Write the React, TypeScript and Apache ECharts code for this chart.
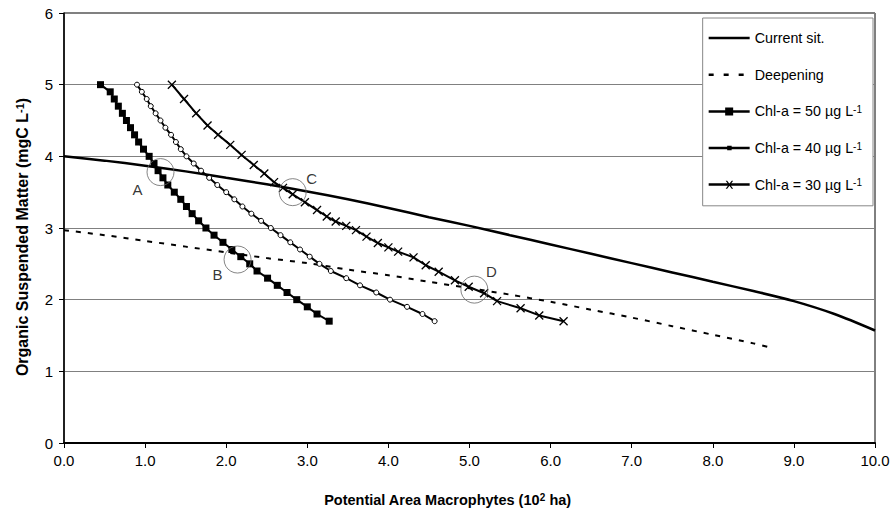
import React, { useEffect, useRef } from 'react';
import * as echarts from 'echarts';

// ---- data ----
const omLevels = [5.0, 4.9, 4.8, 4.7, 4.6, 4.5, 4.4, 4.3, 4.2, 4.1, 4.0, 3.9, 3.8, 3.7, 3.6, 3.5, 3.4, 3.3, 3.2, 3.1, 3.0, 2.9, 2.8, 2.7, 2.6, 2.5, 2.4, 2.3, 2.2, 2.1, 2.0, 1.9, 1.8, 1.7];
const chl50X = [0.45, 0.57, 0.62, 0.67, 0.72, 0.77, 0.82, 0.87, 0.92, 0.98, 1.05, 1.11, 1.16, 1.22, 1.28, 1.36, 1.44, 1.51, 1.58, 1.66, 1.75, 1.85, 1.96, 2.07, 2.18, 2.29, 2.38, 2.51, 2.63, 2.75, 2.87, 3.0, 3.12, 3.27];
const chl40X = [0.9, 0.96, 1.02, 1.07, 1.13, 1.19, 1.25, 1.32, 1.38, 1.44, 1.51, 1.6, 1.69, 1.79, 1.89, 2.0, 2.1, 2.2, 2.31, 2.43, 2.55, 2.67, 2.79, 2.91, 3.03, 3.15, 3.29, 3.48, 3.65, 3.85, 4.02, 4.23, 4.42, 4.57];
const chl30X = [1.33, 1.48, 1.63, 1.77, 1.9, 2.05, 2.19, 2.34, 2.47, 2.59, 2.7, 2.82, 2.97, 3.12, 3.24, 3.35, 3.48, 3.6, 3.73, 3.87, 4.0, 4.12, 4.31, 4.46, 4.62, 4.82, 4.99, 5.18, 5.34, 5.63, 5.86, 6.16];
const chl30Y = [5.0, 4.8, 4.6, 4.43, 4.3, 4.16, 4.02, 3.88, 3.76, 3.64, 3.56, 3.47, 3.36, 3.25, 3.16, 3.09, 3.03, 2.97, 2.88, 2.79, 2.73, 2.67, 2.59, 2.48, 2.39, 2.27, 2.18, 2.09, 1.98, 1.88, 1.78, 1.7];
const currentX = [0, 0.5, 1, 1.5, 2, 2.5, 3, 3.5, 4, 4.5, 5, 5.5, 6, 6.5, 7, 7.5, 8, 8.5, 9, 9.5, 10];
const currentY = [4.0, 3.94, 3.87, 3.79, 3.7, 3.61, 3.51, 3.4, 3.28, 3.15, 3.03, 2.9, 2.77, 2.64, 2.51, 2.38, 2.25, 2.12, 1.98, 1.8, 1.57];
const deepX = [0, 0.5, 1, 1.5, 2, 2.5, 3, 3.5, 4, 4.5, 5, 5.5, 6, 6.5, 7, 7.5, 8, 8.5, 8.75];
const deepY = [2.97, 2.9, 2.82, 2.74, 2.66, 2.58, 2.51, 2.42, 2.34, 2.25, 2.16, 2.07, 1.97, 1.86, 1.75, 1.63, 1.51, 1.39, 1.32];
const markNames = ['A', 'B', 'C', 'D'];
const markX = [1.19, 2.14, 2.82, 5.06];
const markY = [3.78, 2.56, 3.5, 2.14];
const seriesNames = ['Current sit.', 'Deepening', 'Chl-a = 50 µg L-1', 'Chl-a = 40 µg L-1', 'Chl-a = 30 µg L-1'];

const FONT = '"Liberation Sans", Arial, sans-serif';

const zip = (xs: number[], ys: number[]) => xs.map((x, i) => [x, ys[i]]);

const ICON_LINE = 'path://M0,5h41v2.5h-41z';
const ICON_DASH = 'path://M0,5h5v2.5h-5z M15,5h5v2.5h-5z M30,5h5v2.5h-5z M41,6.25';
const ICON_SQUARE = 'path://M0,5h41v2.5h-41z M16.5,2.25h8v8h-8z';
const ICON_DOT = 'path://M0,5h41v2.5h-41z M18.5,4h4.5v4.5h-4.5z';
const ICON_X = 'path://M0,5h41v2.5h-41z M17,2.5L18.5,2.5L24.5,10.5L23,10.5Z M23,2.5L24.5,2.5L18.5,10.5L17,10.5Z';
const legendIcons = [ICON_LINE, ICON_DASH, ICON_SQUARE, ICON_DOT, ICON_X];

const labelOffsets: Record<string, number[]> = { A: [-23, 17], B: [-20, 15], C: [19, -14], D: [17, -18] };

export default function App() {
  const ref = useRef<HTMLDivElement>(null);
  useEffect(() => {
    if (!ref.current) return;
    const chart = echarts.init(ref.current, null, { renderer: 'svg' });
    const black = '#000';
    const option: any = {
      animation: false,
      textStyle: { fontFamily: FONT },
      grid: { left: 64, right: 19, top: 13, bottom: 74, show: true, borderColor: black, borderWidth: 1 },
      legend: {
        data: seriesNames.map((n, i) => ({ name: n, icon: legendIcons[i] })),
        orient: 'vertical',
        right: 21,
        top: 18,
        itemWidth: 41,
        itemHeight: 14,
        itemGap: 22.7,
        backgroundColor: '#fff',
        borderColor: '#888',
        borderWidth: 1,
        borderRadius: 0,
        padding: [13, 11, 14, 6],
        selectedMode: false,
        itemStyle: { color: black, borderWidth: 0 },
        formatter: (name: string) => {
          if (name.startsWith('Chl')) return '{t|' + name.replace(/-1$/, '') + '}{s|-1}';
          return '{t|' + name + '}';
        },
        textStyle: {
          color: black,
          fontFamily: FONT,
          fontSize: 14,
          rich: {
            t: { fontSize: 14.3, fontFamily: FONT, color: black, lineHeight: 14 },
            s: { fontSize: 10, fontFamily: FONT, color: black, verticalAlign: 'top', lineHeight: 14 },
          },
        },
      },
      xAxis: {
        type: 'value',
        min: 0,
        max: 10,
        interval: 1,
        name: '{t|Potential Area Macrophytes (10}{s|2}{t| ha)}',
        nameLocation: 'middle',
        nameGap: 49,
        nameTextStyle: {
          padding: [0, 44, 0, 0],
          rich: {
            t: { fontSize: 14.5, fontWeight: 'bold', fontFamily: FONT, color: black },
            s: { fontSize: 10, fontWeight: 'bold', fontFamily: FONT, color: black, verticalAlign: 'top' },
          },
        },
        axisLine: { show: true, lineStyle: { color: black, width: 2 } },
        axisTick: { show: true, length: 5, lineStyle: { color: black, width: 1 } },
        axisLabel: { formatter: (v: number) => v.toFixed(1), color: black, fontSize: 15, fontFamily: FONT, margin: 10 },
        splitLine: { show: false },
      },
      yAxis: {
        type: 'value',
        min: 0,
        max: 6,
        interval: 1,
        name: '{t|Organic Suspended Matter (mgC L}{s|-1}{t|)}',
        nameLocation: 'middle',
        nameGap: 34,
        nameTextStyle: {
          padding: [0, 18, 0, 0],
          rich: {
            t: { fontSize: 16, fontWeight: 'bold', fontFamily: FONT, color: black },
            s: { fontSize: 11, fontWeight: 'bold', fontFamily: FONT, color: black, verticalAlign: 'top' },
          },
        },
        axisLine: { show: true, lineStyle: { color: black, width: 1.5 } },
        axisTick: { show: true, length: 5, lineStyle: { color: black, width: 1 } },
        axisLabel: { color: black, fontSize: 15, fontFamily: FONT, margin: 11 },
        splitLine: { show: true, lineStyle: { color: '#808080', width: 1 } },
      },
      series: [
        {
          name: seriesNames[0],
          type: 'line',
          data: zip(currentX, currentY),
          symbol: 'none',
          smooth: 0.3,
          lineStyle: { color: black, width: 2.5 },
          itemStyle: { color: black },
          z: 3,
        },
        {
          name: seriesNames[1],
          type: 'line',
          data: zip(deepX, deepY),
          symbol: 'none',
          smooth: 0.3,
          lineStyle: { color: black, width: 2, type: [5, 7] },
          itemStyle: { color: black },
          z: 3,
        },
        {
          name: seriesNames[2],
          type: 'line',
          data: zip(chl50X, omLevels),
          symbol: 'rect',
          symbolSize: 7,
          lineStyle: { color: black, width: 2 },
          itemStyle: { color: black },
          z: 4,
        },
        {
          name: seriesNames[3],
          type: 'line',
          data: zip(chl40X, omLevels),
          symbol: 'circle',
          symbolSize: 5,
          lineStyle: { color: black, width: 2 },
          itemStyle: { color: '#fff', borderColor: black, borderWidth: 1 },
          z: 4,
        },
        {
          name: seriesNames[4],
          type: 'line',
          data: zip(chl30X, chl30Y),
          symbol: 'path://M0,0L10,10M10,0L0,10',
          symbolSize: 8,
          lineStyle: { color: black, width: 2 },
          itemStyle: { color: 'none', borderColor: black, borderWidth: 1.3 },
          z: 4,
        },
        {
          name: 'marks',
          type: 'scatter',
          silent: true,
          symbol: 'circle',
          symbolSize: 27,
          itemStyle: { color: 'rgba(0,0,0,0)', borderColor: '#666', borderWidth: 1 },
          label: {
            show: true,
            position: 'inside',
            formatter: '{b}',
            color: black,
            fontSize: 15,
            fontFamily: FONT,
          },
          data: markNames.map((n, i) => ({
            name: n,
            value: [markX[i], markY[i]],
            label: { offset: labelOffsets[n] },
          })),
          z: 10,
        },
      ],
    };
    chart.setOption(option);
    return () => chart.dispose();
  }, []);
  return <div ref={ref} style={{ position: 'fixed', left: 0, top: 0, width: 894, height: 517, background: '#fff' }} />;
}
